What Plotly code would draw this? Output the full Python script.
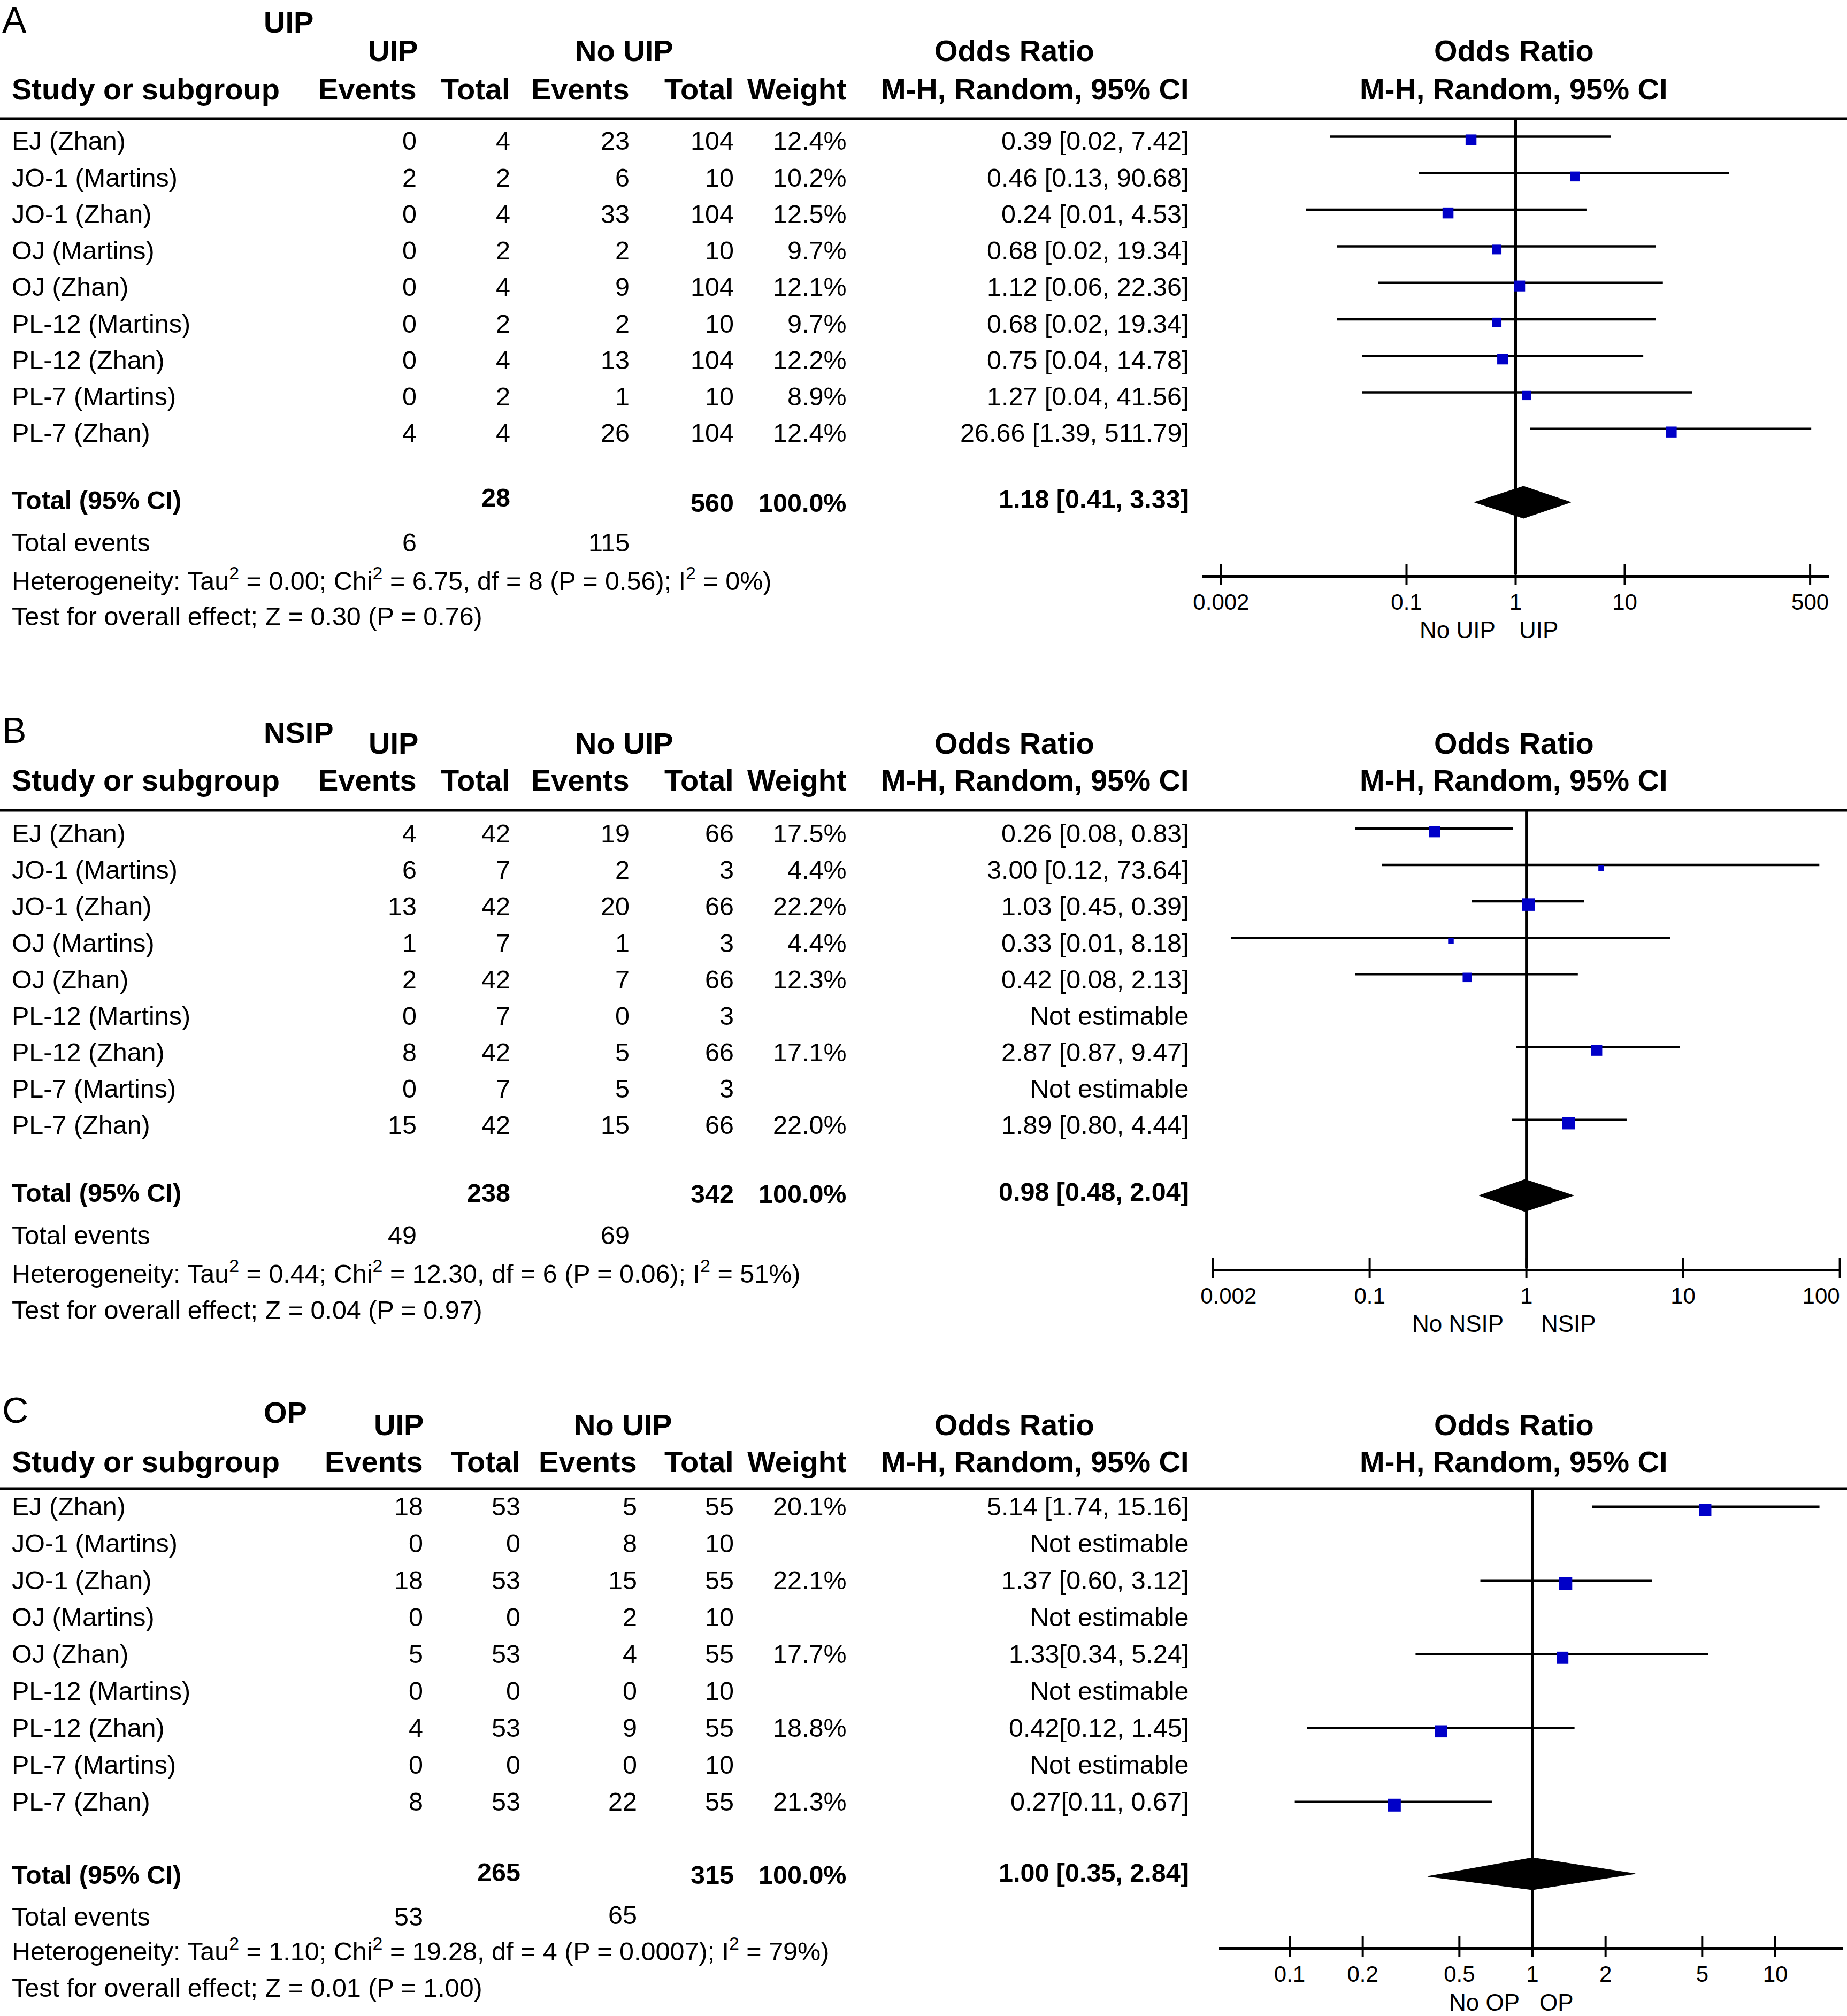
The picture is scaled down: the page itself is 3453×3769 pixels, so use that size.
import math
import plotly.graph_objects as go

W, H = 3453, 3769
FONT = "Liberation Sans, Arial, Helvetica, sans-serif"

# ------------------------------------------------------------------ data
STUDIES = ["EJ (Zhan)", "JO-1 (Martins)", "JO-1 (Zhan)", "OJ (Martins)", "OJ (Zhan)",
           "PL-12 (Martins)", "PL-12 (Zhan)", "PL-7 (Martins)", "PL-7 (Zhan)"]

# Panel A : UIP
A_EV1 = [0, 2, 0, 0, 0, 0, 0, 0, 4]
A_N1 = [4, 2, 4, 2, 4, 2, 4, 2, 4]
A_EV2 = [23, 6, 33, 2, 9, 2, 13, 1, 26]
A_N2 = [104, 10, 104, 10, 104, 10, 104, 10, 104]
A_WEIGHT = [12.4, 10.2, 12.5, 9.7, 12.1, 9.7, 12.2, 8.9, 12.4]
A_OR_LABEL = ["0.39 [0.02, 7.42]", "0.46 [0.13, 90.68]", "0.24 [0.01, 4.53]", "0.68 [0.02, 19.34]",
              "1.12 [0.06, 22.36]", "0.68 [0.02, 19.34]", "0.75 [0.04, 14.78]", "1.27 [0.04, 41.56]",
              "26.66 [1.39, 511.79]"]
A_OR = [0.39, 3.5, 0.24, 0.67, 1.09, 0.67, 0.76, 1.26, 26.66]
A_LO = [0.02, 0.13, 0.012, 0.023, 0.055, 0.023, 0.039, 0.039, 1.36]
A_HI = [7.42, 90.68, 4.46, 19.34, 22.36, 19.34, 14.78, 41.56, 511.79]
A_TOTAL_N = [28, 560]
A_TOTAL_EV = [6, 115]
A_POOLED = [1.18, 0.42, 3.2]
A_POOLED_LABEL = "1.18 [0.41, 3.33]"
A_HET = "Heterogeneity: Tau<sup>2</sup> = 0.00; Chi<sup>2</sup> = 6.75, df = 8 (P = 0.56); I<sup>2</sup> = 0%)"
A_TEST = "Test for overall effect; Z = 0.30 (P = 0.76)"
A_TICKVALS = [0.002, 0.1, 1, 10, 500]
A_TICKTEXT = ["0.002", "0.1", "1", "10", "500"]
A_FAV = ["No UIP", "UIP"]

# Panel B : NSIP
B_EV1 = [4, 6, 13, 1, 2, 0, 8, 0, 15]
B_N1 = [42, 7, 42, 7, 42, 7, 42, 7, 42]
B_EV2 = [19, 2, 20, 1, 7, 0, 5, 5, 15]
B_N2 = [66, 3, 66, 3, 66, 3, 66, 3, 66]
B_WEIGHT = [17.5, 4.4, 22.2, 4.4, 12.3, None, 17.1, None, 22.0]
B_OR_LABEL = ["0.26 [0.08, 0.83]", "3.00 [0.12, 73.64]", "1.03 [0.45, 0.39]", "0.33 [0.01, 8.18]",
              "0.42 [0.08, 2.13]", "Not estimable", "2.87 [0.87, 9.47]", "Not estimable",
              "1.89 [0.80, 4.44]"]
B_OR = [0.26, 3.00, 1.03, 0.33, 0.42, None, 2.81, None, 1.86]
B_LO = [0.081, 0.12, 0.45, 0.013, 0.081, None, 0.86, None, 0.81]
B_HI = [0.82, 74.0, 2.33, 8.3, 2.13, None, 9.5, None, 4.36]
B_TOTAL_N = [238, 342]
B_TOTAL_EV = [49, 69]
B_POOLED = [0.98, 0.50, 2.0]
B_POOLED_LABEL = "0.98 [0.48, 2.04]"
B_HET = "Heterogeneity: Tau<sup>2</sup> = 0.44; Chi<sup>2</sup> = 12.30, df = 6 (P = 0.06); I<sup>2</sup> = 51%)"
B_TEST = "Test for overall effect; Z = 0.04 (P = 0.97)"
B_TICKVALS = [0.01, 0.1, 1, 10, 100]
B_TICKTEXT = ["\u00a0" * 5 + "0.002", "0.1", "1", "10", "100" + "\u00a0" * 6]
B_FAV = ["No NSIP", "NSIP"]

# Panel C : OP
C_EV1 = [18, 0, 18, 0, 5, 0, 4, 0, 8]
C_N1 = [53, 0, 53, 0, 53, 0, 53, 0, 53]
C_EV2 = [5, 8, 15, 2, 4, 0, 9, 0, 22]
C_N2 = [55, 10, 55, 10, 55, 10, 55, 10, 55]
C_WEIGHT = [20.1, None, 22.1, None, 17.7, None, 18.8, None, 21.3]
C_OR_LABEL = ["5.14 [1.74, 15.16]", "Not estimable", "1.37 [0.60, 3.12]", "Not estimable",
              "1.33[0.34, 5.24]", "Not estimable", "0.42[0.12, 1.45]", "Not estimable",
              "0.27[0.11, 0.67]"]
C_OR = [5.14, None, 1.37, None, 1.33, None, 0.42, None, 0.27]
C_LO = [1.76, None, 0.61, None, 0.33, None, 0.118, None, 0.105]
C_HI = [15.2, None, 3.11, None, 5.3, None, 1.49, None, 0.68]
C_TOTAL_N = [265, 315]
C_TOTAL_EV = [53, 65]
C_POOLED = [1.00, 0.37, 2.65]
C_POOLED_LABEL = "1.00 [0.35, 2.84]"
C_HET = "Heterogeneity: Tau<sup>2</sup> = 1.10; Chi<sup>2</sup> = 19.28, df = 4 (P = 0.0007); I<sup>2</sup> = 79%)"
C_TEST = "Test for overall effect; Z = 0.01 (P = 1.00)"
C_TICKVALS = [0.1, 0.2, 0.5, 1, 2, 5, 10]
C_TICKTEXT = ["0.1", "0.2", "0.5", "1", "2", "5", "10"]
C_FAV = ["No OP", "OP"]

HEAD_COLS = ["Study or subgroup", "Events", "Total", "Events", "Total", "Weight"]
HEAD_GROUPS = ["UIP", "No UIP"]
HEAD_OR = ["Odds Ratio", "M-H, Random, 95% CI"]

# ------------------------------------------------------------------ layout geometry (pixels)
GEOM = [
    dict(letter="A", title="UIP", title_base=61, h1=114, h2=186, rule=222,
         row_base=280, row_line=255.6, pitch=68.26, total=952, tev=1031, het=1103, test=1169,
         axis=1074, xdom=(2248, 3420), one=2833.5, dec=204, msk=5.8,
         cols=(779, 954, 1177, 1372, 1583), h1c=(734, 1167), fav=(38, 6, 1177),
         tot_dy=(-5, 5, 5, -2), tev_dy=(0, 0), diam_dy=13, skew=0),
    dict(letter="B", title="NSIP", title_base=1389, h1=1409, h2=1478, rule=1515,
         row_base=1575, row_line=1548.9, pitch=68.1, total=2247, tev=2326, het=2398, test=2466,
         axis=2371, xdom=(2266, 3442), one=2853.6, dec=293, msk=5.0,
         cols=(779, 954, 1177, 1372, 1583), h1c=(735, 1167), fav=(43, 27, 2474),
         tot_dy=(0, 2, 2, -2), tev_dy=(0, 0), diam_dy=12, skew=0),
    dict(letter="C", title="OP", title_base=2660, h1=2683, h2=2752, rule=2783,
         row_base=2833, row_line=2816.8, pitch=69.0, total=3522, tev=3600, het=3665, test=3733,
         axis=3639, xdom=(2279, 3445), one=2865, dec=454, msk=5.2,
         cols=(791, 973, 1191, 1372, 1583), h1c=(745, 1165), fav=(24, 13, 3743),
         tot_dy=(-5, 0, 0, -4), tev_dy=(0, -3), diam_dy=19, skew=5),
]

PANELS = [
    dict(ev1=A_EV1, n1=A_N1, ev2=A_EV2, n2=A_N2, wt=A_WEIGHT, orl=A_OR_LABEL, est=A_OR, lo=A_LO, hi=A_HI,
         tn=A_TOTAL_N, tev=A_TOTAL_EV, pooled=A_POOLED, pl=A_POOLED_LABEL, het=A_HET, test=A_TEST,
         tv=A_TICKVALS, tt=A_TICKTEXT, fav=A_FAV),
    dict(ev1=B_EV1, n1=B_N1, ev2=B_EV2, n2=B_N2, wt=B_WEIGHT, orl=B_OR_LABEL, est=B_OR, lo=B_LO, hi=B_HI,
         tn=B_TOTAL_N, tev=B_TOTAL_EV, pooled=B_POOLED, pl=B_POOLED_LABEL, het=B_HET, test=B_TEST,
         tv=B_TICKVALS, tt=B_TICKTEXT, fav=B_FAV),
    dict(ev1=C_EV1, n1=C_N1, ev2=C_EV2, n2=C_N2, wt=C_WEIGHT, orl=C_OR_LABEL, est=C_OR, lo=C_LO, hi=C_HI,
         tn=C_TOTAL_N, tev=C_TOTAL_EV, pooled=C_POOLED, pl=C_POOLED_LABEL, het=C_HET, test=C_TEST,
         tv=C_TICKVALS, tt=C_TICKTEXT, fav=C_FAV),
]

FS_BODY, FS_HEAD, FS_LETTER, FS_TITLE, FS_TICK, FS_FAV = 48.5, 56, 68, 56, 42, 44
OR_RIGHT, OR_HEAD_C, FOREST_HEAD_C = 2223, 1896, 2830
LEFT = 22
BLUE = "#0000C8"
TICK_HALF = 19


def P(x):
    return x / W


def Q(y):
    return 1 - y / H


annotations = []
shapes = []
traces = []
layout_axes = {}


def txt(s, x, base, fs, anchor="left", bold=False):
    annotations.append(dict(
        text=f"<b>{s}</b>" if bold else s,
        x=P(x), y=Q(base + 0.212 * fs), xref="paper", yref="paper",
        xanchor=anchor, yanchor="bottom", showarrow=False,
        font=dict(family=FONT, size=fs, color="black"),
        borderpad=0, borderwidth=0))


for k, (g, d) in enumerate(zip(GEOM, PANELS), start=1):
    xr = "x" if k == 1 else f"x{k}"
    yr = "y" if k == 1 else f"y{k}"
    xname = "xaxis" if k == 1 else f"xaxis{k}"
    yname = "yaxis" if k == 1 else f"yaxis{k}"

    # ---------------- titles & headers
    txt(g["letter"], 4, g["title_base"], FS_LETTER)
    txt(g["title"], 493, g["title_base"], FS_TITLE, bold=True)
    txt(HEAD_GROUPS[0], g["h1c"][0], g["h1"], FS_HEAD, "center", True)
    txt(HEAD_GROUPS[1], g["h1c"][1], g["h1"], FS_HEAD, "center", True)
    txt(HEAD_OR[0], OR_HEAD_C, g["h1"], FS_HEAD, "center", True)
    txt(HEAD_OR[0], FOREST_HEAD_C, g["h1"], FS_HEAD, "center", True)
    txt(HEAD_COLS[0], LEFT, g["h2"], FS_HEAD, "left", True)
    for name, cx in zip(HEAD_COLS[1:], g["cols"]):
        txt(name, cx, g["h2"], FS_HEAD, "right", True)
    txt(HEAD_OR[1], OR_RIGHT, g["h2"], FS_HEAD, "right", True)
    txt(HEAD_OR[1], FOREST_HEAD_C, g["h2"], FS_HEAD, "center", True)
    shapes.append(dict(type="line", xref="paper", yref="paper", x0=0, x1=1,
                       y0=Q(g["rule"]), y1=Q(g["rule"]), line=dict(color="black", width=5)))

    # ---------------- study rows
    ci_x, ci_y, mk_x, mk_y, mk_s = [], [], [], [], []
    for i, study in enumerate(STUDIES):
        base = g["row_base"] + i * g["pitch"]
        line_y = g["row_line"] + i * g["pitch"]
        txt(study, LEFT, base, FS_BODY)
        vals = [d["ev1"][i], d["n1"][i], d["ev2"][i], d["n2"][i]]
        for v, cx in zip(vals, g["cols"][:4]):
            txt(str(v), cx, base, FS_BODY, "right")
        if d["wt"][i] is not None:
            txt(f"{d['wt'][i]:.1f}%", g["cols"][4], base, FS_BODY, "right")
        txt(d["orl"][i], OR_RIGHT, base, FS_BODY, "right")
        if d["est"][i] is not None:
            ci_x += [d["lo"][i], d["hi"][i], None]
            ci_y += [line_y, line_y, None]
            mk_x.append(d["est"][i])
            mk_y.append(line_y + 6)
            mk_s.append(g["msk"] * math.sqrt(d["wt"][i]))

    # ---------------- totals
    tb = g["total"]
    dy = g["tot_dy"]
    txt("Total (95% CI)", LEFT, tb, FS_BODY, bold=True)
    txt(str(d["tn"][0]), g["cols"][1], tb + dy[0], FS_BODY, "right", True)
    txt(str(d["tn"][1]), g["cols"][3], tb + dy[1], FS_BODY, "right", True)
    txt("100.0%", g["cols"][4], tb + dy[2], FS_BODY, "right", True)
    txt(d["pl"], OR_RIGHT, tb + dy[3], FS_BODY, "right", True)
    txt("Total events", LEFT, g["tev"], FS_BODY)
    txt(str(d["tev"][0]), g["cols"][0], g["tev"] + g["tev_dy"][0], FS_BODY, "right")
    txt(str(d["tev"][1]), g["cols"][2], g["tev"] + g["tev_dy"][1], FS_BODY, "right")
    txt(d["het"], LEFT, g["het"], FS_BODY)
    txt(d["test"], LEFT, g["test"], FS_BODY)

    # favours labels
    txt(d["fav"][0], g["one"] - g["fav"][0], g["fav"][2] + 0.36 * FS_FAV, FS_FAV, "right")
    txt(d["fav"][1], g["one"] + g["fav"][1], g["fav"][2] + 0.36 * FS_FAV, FS_FAV, "left")

    # ---------------- forest subplot
    axis_y = g["axis"]
    ybot = axis_y + TICK_HALF + 3
    traces.append(go.Scatter(x=[1, 1], y=[g["rule"], axis_y], mode="lines",
                             line=dict(color="black", width=5), xaxis=xr, yaxis=yr,
                             hoverinfo="skip", showlegend=False))
    traces.append(go.Scatter(x=ci_x, y=ci_y, mode="lines", line=dict(color="black", width=4.5),
                             xaxis=xr, yaxis=yr, hoverinfo="skip", showlegend=False))
    traces.append(go.Scatter(x=mk_x, y=mk_y, mode="markers",
                             marker=dict(symbol="square", size=mk_s, color=BLUE, opacity=1,
                                         line=dict(width=0)),
                             xaxis=xr, yaxis=yr, showlegend=False))
    est, lo, hi = d["pooled"]
    cy = tb - g["diam_dy"]
    traces.append(go.Scatter(x=[lo, est, hi, est, lo], y=[cy + g["skew"], cy - 30, cy, cy + 30, cy + g["skew"]],
                             mode="lines", fill="toself", fillcolor="black",
                             line=dict(color="black", width=1), xaxis=xr, yaxis=yr,
                             hoverinfo="skip", showlegend=False))
    tick_x, tick_y = [], []
    for v in d["tv"]:
        tick_x += [v, v, None]
        tick_y += [axis_y - TICK_HALF, axis_y + TICK_HALF, None]
    traces.append(go.Scatter(x=tick_x, y=tick_y, mode="lines", line=dict(color="black", width=4),
                             xaxis=xr, yaxis=yr, hoverinfo="skip", showlegend=False))

    x0, x1 = g["xdom"]
    layout_axes[xname] = dict(
        type="log", domain=[P(x0), P(x1)],
        range=[(x0 - g["one"]) / g["dec"], (x1 - g["one"]) / g["dec"]],
        anchor="free", position=Q(axis_y + 2.5), showline=True, linecolor="black", linewidth=5,
        ticks="", tickmode="array", tickvals=d["tv"], ticktext=d["tt"], ticklabelstandoff=10,
        ticklabeloverflow="allow", automargin=False,
        tickfont=dict(family=FONT, size=FS_TICK, color="black"),
        showgrid=False, zeroline=False, fixedrange=True)
    layout_axes[yname] = dict(
        domain=[Q(ybot), Q(g["rule"])], range=[ybot, g["rule"]], anchor=xr,
        visible=False, showgrid=False, zeroline=False, fixedrange=True, automargin=False)

fig = go.Figure(data=traces)
fig.update_layout(width=W, height=H, margin=dict(l=0, r=0, t=0, b=0, pad=0, autoexpand=False),
                  paper_bgcolor="white", plot_bgcolor="rgba(0,0,0,0)",
                  showlegend=False, annotations=annotations, shapes=shapes,
                  font=dict(family=FONT, color="black"), **layout_axes)
fig.write_html("out.html", config={"displayModeBar": False},
               post_script="document.body.style.margin='0px';")
